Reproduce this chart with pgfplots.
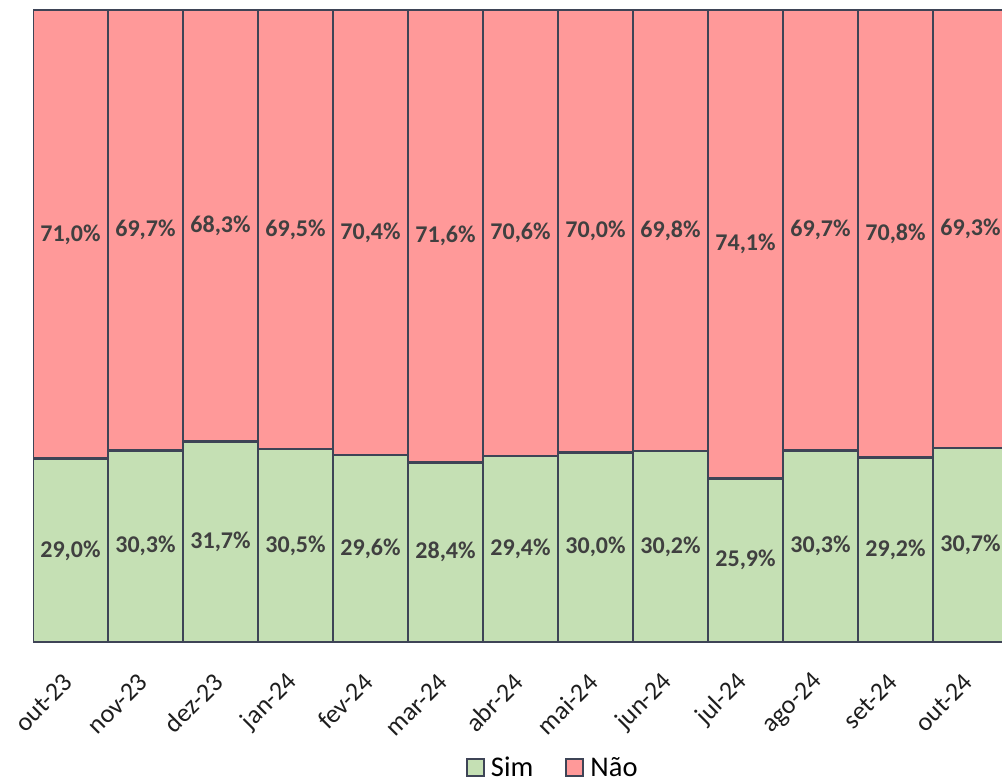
\documentclass[border=0pt]{standalone}
\usepackage{pgfplots}
\usepackage{pgfplotstable}
\usepackage{fontspec}
\setmainfont{Carlito}
\pgfplotsset{compat=1.18}
\definecolor{simfill}{HTML}{C5E0B4}
\definecolor{naofill}{HTML}{FF9999}
\definecolor{edge}{HTML}{3E4456}
\definecolor{lbl}{HTML}{404040}
\definecolor{tick}{HTML}{1E1E1E}

\pgfplotstableread{
idx mes    sim  nao
0   out-23 29.0 71.0
1   nov-23 30.3 69.7
2   dez-23 31.7 68.3
3   jan-24 30.5 69.5
4   fev-24 29.6 70.4
5   mar-24 28.4 71.6
6   abr-24 29.4 70.6
7   mai-24 30.0 70.0
8   jun-24 30.2 69.8
9   jul-24 25.9 74.1
10  ago-24 30.3 69.7
11  set-24 29.2 70.8
12  out-24 30.7 69.3
}\dados

\pgfplotsset{
  base/.style={
    at={(33pt,140pt)}, anchor=south west,
    scale only axis, width=975pt, height=632pt,
    xmin=-0.5, xmax=12.5, ymin=0, ymax=100,
  },
  rotulo/.style={
    draw=none, mark=none, point meta=explicit,
    nodes near coords={\pgfmathprintnumber[fixed,fixed zerofill,precision=1,use comma,assume math mode=true]{\pgfplotspointmeta}\%},
    nodes near coords align={center},
    every node near coord/.append style={anchor=center, inner sep=0pt, text=lbl,
      font=\fontsize{24}{28}\selectfont\bfseries},
  },
}

\begin{document}
\begin{tikzpicture}
\useasboundingbox (0,0) rectangle (1002pt,782pt);
\begin{axis}[
  base,
  ybar stacked, bar width=1,
  axis line style={draw=none},
  ytick=\empty,
  xtick=data,
  xticklabels from table={\dados}{mes},
  major tick length=0pt,
  xticklabel style={xshift=-2pt, yshift=-36pt, rotate=45, anchor=east, inner sep=0pt, text=tick,
    font=\fontsize{26}{30}\selectfont},
  legend style={at={(0.533,-0.199)}, anchor=center, draw=none, fill=none,
    legend columns=2, font=\fontsize{28.5}{32}\selectfont,
    /tikz/every even column/.append style={column sep=30pt}},
  legend image code/.code={\draw[#1, line width=1.8pt] (0pt,-8pt) rectangle (17pt,9pt);
    \path (21pt,0pt);},
]
\addplot[fill=simfill, draw=edge, line width=2.5pt] table[x=idx, y=sim]{\dados};
\addplot[fill=naofill, draw=edge, line width=2.5pt] table[x=idx, y=nao]{\dados};
\legend{Sim,Não}
\end{axis}
\begin{axis}[base, hide axis]
\addplot[rotulo] table[x=idx, y expr=\thisrow{sim}/2, meta=sim]{\dados};
\addplot[rotulo] table[x=idx, y expr=\thisrow{sim}+\thisrow{nao}/2, meta=nao]{\dados};
\end{axis}
\end{tikzpicture}
\end{document}
